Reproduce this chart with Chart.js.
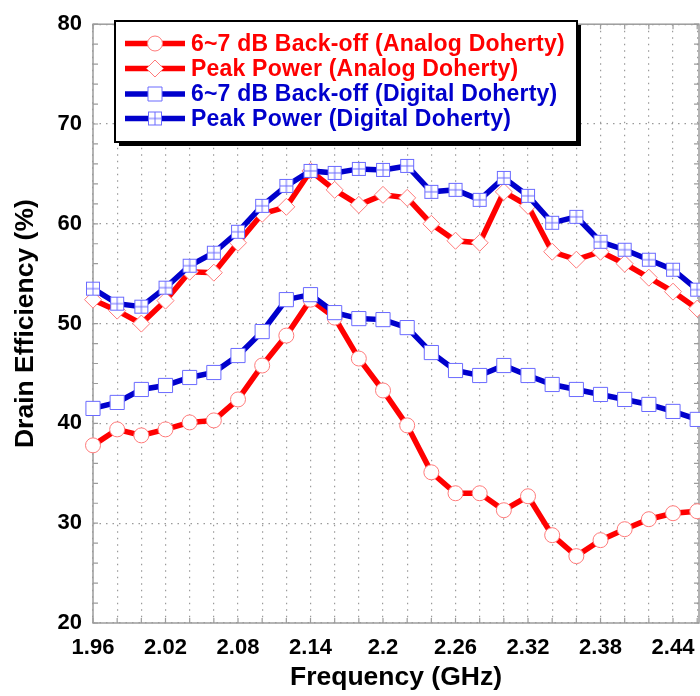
<!DOCTYPE html>
<html>
<head>
<meta charset="utf-8">
<script src="https://cdn.jsdelivr.net/npm/chart.js@4.4.1/dist/chart.umd.min.js"></script>
<style>
  html, body { margin: 0; padding: 0; background: #fff; overflow: hidden; }
  #wrap { width: 700px; height: 696px; position: relative; }
</style>
</head>
<body>
<div id="wrap"><canvas id="c"></canvas></div>
<script>
// Measured drain efficiency (%) versus frequency (GHz)
const frequency = [1.96, 1.98, 2.00, 2.02, 2.04, 2.06, 2.08, 2.10, 2.12, 2.14, 2.16, 2.18, 2.20,
                   2.22, 2.24, 2.26, 2.28, 2.30, 2.32, 2.34, 2.36, 2.38, 2.40, 2.42, 2.44, 2.46];

const analogBackoff  = [37.8, 39.4, 38.8, 39.4, 40.1, 40.3, 42.4, 45.8, 48.8, 52.4, 50.6, 46.5, 43.3,
                        39.8, 35.1, 33.0, 33.0, 31.3, 32.7, 28.8, 26.7, 28.3, 29.4, 30.4, 31.0, 31.2];
const analogPeak     = [52.4, 51.3, 50.0, 52.3, 55.2, 55.1, 58.1, 61.0, 61.7, 65.3, 63.4, 61.9, 62.9,
                        62.6, 60.0, 58.3, 58.1, 63.2, 61.8, 57.2, 56.4, 57.2, 56.0, 54.6, 53.2, 51.5];
const digitalBackoff = [41.5, 42.1, 43.4, 43.8, 44.6, 45.1, 46.8, 49.2, 52.4, 52.9, 51.1, 50.5, 50.4,
                        49.6, 47.1, 45.3, 44.8, 45.8, 44.8, 43.9, 43.4, 42.9, 42.4, 41.9, 41.2, 40.4];
const digitalPeak    = [53.5, 52.0, 51.7, 53.6, 55.8, 57.1, 59.2, 61.8, 63.8, 65.3, 65.1, 65.5, 65.4,
                        65.8, 63.2, 63.4, 62.4, 64.6, 62.8, 60.1, 60.7, 58.2, 57.4, 56.4, 55.4, 53.4];

const seriesLabels = [
  '6~7 dB Back-off (Analog Doherty)',
  'Peak Power (Analog Doherty)',
  '6~7 dB Back-off (Digital Doherty)',
  'Peak Power (Digital Doherty)'
];

const xTickLabels = ['1.96', '2.02', '2.08', '2.14', '2.2', '2.26', '2.32', '2.38', '2.44'];
const yTickLabels = [20, 30, 40, 50, 60, 70, 80];

const RED = '#ff0000', RED_LIGHT = '#ff7a7a';
const BLUE = '#0000cc', BLUE_LIGHT = '#6a6aff';
const FONT = "'Liberation Sans', Arial, sans-serif";

// square marker split into four cells by a cross
function crossSquare(side, stroke) {
  const c = document.createElement('canvas');
  c.width = c.height = side + 2;
  const g = c.getContext('2d');
  const o = 1;
  g.fillStyle = '#fff';
  g.fillRect(o, o, side, side);
  g.strokeStyle = stroke;
  g.lineWidth = 1;
  g.strokeRect(o + 0.5, o + 0.5, side - 1, side - 1);
  g.beginPath();
  g.moveTo(o + side / 2, o); g.lineTo(o + side / 2, o + side);
  g.moveTo(o, o + side / 2); g.lineTo(o + side, o + side / 2);
  g.stroke();
  return c;
}
const crossMarker = crossSquare(14, BLUE_LIGHT);

const pts = arr => frequency.map((f, i) => ({ x: f, y: arr[i] }));

const datasets = [
  { label: seriesLabels[3], data: pts(digitalPeak), borderColor: BLUE, borderWidth: 5.5,
    pointStyle: crossMarker, pointRadius: 8, pointBorderColor: BLUE_LIGHT, pointBackgroundColor: '#fff',
    order: 0, marker: 'cross' },
  { label: seriesLabels[2], data: pts(digitalBackoff), borderColor: BLUE, borderWidth: 5.5,
    pointStyle: 'rect', pointRadius: 10, pointBorderWidth: 1, pointBorderColor: BLUE_LIGHT, pointBackgroundColor: '#fff',
    order: 1, marker: 'square' },
  { label: seriesLabels[1], data: pts(analogPeak), borderColor: RED, borderWidth: 5.5,
    pointStyle: 'rectRot', pointRadius: 8.5, pointBorderWidth: 1, pointBorderColor: RED_LIGHT, pointBackgroundColor: '#fff',
    order: 2, marker: 'diamond' },
  { label: seriesLabels[0], data: pts(analogBackoff), borderColor: RED, borderWidth: 5.5,
    pointStyle: 'circle', pointRadius: 7.5, pointBorderWidth: 1, pointBorderColor: RED_LIGHT, pointBackgroundColor: '#fff',
    order: 3, marker: 'circle' }
].map(d => Object.assign({ fill: false, tension: 0, clip: false, pointHoverRadius: d.pointRadius }, d));

function drawMarker(ctx, kind, x, y, stroke) {
  ctx.save();
  ctx.fillStyle = '#fff';
  ctx.strokeStyle = stroke;
  ctx.lineWidth = 1;
  ctx.beginPath();
  if (kind === 'circle') {
    ctx.arc(x, y, 7.5, 0, Math.PI * 2);
    ctx.fill(); ctx.stroke();
  } else if (kind === 'diamond') {
    ctx.moveTo(x, y - 8.5); ctx.lineTo(x + 8.5, y); ctx.lineTo(x, y + 8.5); ctx.lineTo(x - 8.5, y);
    ctx.closePath(); ctx.fill(); ctx.stroke();
  } else if (kind === 'square') {
    ctx.rect(x - 7, y - 7, 14, 14); ctx.fill(); ctx.stroke();
  } else {
    ctx.drawImage(crossMarker, x - crossMarker.width / 2, y - crossMarker.height / 2);
  }
  ctx.restore();
}

const framePlugin = {
  id: 'frameAndLegend',
  beforeDatasetsDraw(chart) {
    const { ctx, chartArea: a, scales: { x, y } } = chart;
    ctx.save();
    ctx.strokeStyle = '#9c9c9c';
    ctx.lineWidth = 1.2;
    ctx.beginPath();
    x.ticks.forEach(t => {
      const px = x.getPixelForValue(t.value);
      ctx.moveTo(px, a.bottom); ctx.lineTo(px, a.bottom - 5);
      ctx.moveTo(px, a.top); ctx.lineTo(px, a.top + 5);
    });
    y.ticks.forEach(t => {
      const py = y.getPixelForValue(t.value);
      ctx.moveTo(a.left, py); ctx.lineTo(a.left + 5, py);
      ctx.moveTo(a.right, py); ctx.lineTo(a.right - 5, py);
    });
    ctx.stroke();
    ctx.lineWidth = 1.5;
    ctx.strokeRect(a.left, a.top, a.right - a.left, a.bottom - a.top);
    ctx.restore();
  },
  afterDraw(chart) {
    const { ctx } = chart;
    const bx = 115, by = 21, bw = 462, bh = 121;
    ctx.save();
    ctx.fillStyle = '#000';
    ctx.fillRect(bx + 4, by + 4, bw, bh);
    ctx.fillStyle = '#fff';
    ctx.fillRect(bx, by, bw, bh);
    ctx.strokeStyle = '#000';
    ctx.lineWidth = 2;
    ctx.strokeRect(bx, by, bw, bh);

    const rows = [datasets[3], datasets[2], datasets[1], datasets[0]];
    const rowY = [43.5, 68.5, 94, 118.5];
    ctx.font = "bold 23px " + FONT;
    if ('letterSpacing' in ctx) ctx.letterSpacing = '0.2px';
    ctx.textBaseline = 'middle';
    ctx.textAlign = 'left';
    rows.forEach((d, i) => {
      const yy = rowY[i];
      ctx.strokeStyle = d.borderColor;
      ctx.lineWidth = 5.5;
      ctx.beginPath();
      ctx.moveTo(125, yy); ctx.lineTo(185, yy);
      ctx.stroke();
      drawMarker(ctx, d.marker, 155, yy, d.pointBorderColor);
      ctx.fillStyle = d.borderColor === RED ? RED : BLUE;
      ctx.fillText(d.label, 191, yy + 1);
    });
    ctx.restore();
  }
};

new Chart(document.getElementById('c'), {
  type: 'line',
  data: { datasets },
  plugins: [framePlugin],
  options: {
    responsive: true,
    maintainAspectRatio: false,
    animation: false,
    layout: { autoPadding: false, padding: { top: 20, right: 1, left: 0, bottom: 0 } },
    plugins: { legend: { display: false }, tooltip: { enabled: false } },
    scales: {
      x: {
        type: 'linear',
        min: 1.96,
        max: 2.4615,
        afterFit: s => { s.height = 73; },
        ticks: {
          stepSize: 0.02,
          includeBounds: false,
          autoSkip: false,
          maxRotation: 0,
          padding: 0,
          color: '#000',
          font: { family: FONT, size: 22, weight: 'bold' },
          callback: v => {
            const s = String(Math.round(v * 100) / 100);
            return xTickLabels.includes(s) ? s : '';
          }
        },
        grid: { color: '#9a9a9a', lineWidth: 1.2, drawTicks: true, tickLength: 12, tickColor: 'rgba(0,0,0,0)' },
        border: { display: false, dash: [1.5, 5] },
        title: {
          display: true, text: 'Frequency (GHz)', color: '#000',
          font: { family: FONT, size: 26.5, weight: 'bold' },
          padding: { top: 0, bottom: 2 }
        }
      },
      y: {
        min: 20,
        max: 80,
        afterFit: s => { s.width = 93; },
        ticks: {
          stepSize: 2,
          autoSkip: false,
          padding: 11,
          color: '#000',
          font: { family: FONT, size: 22, weight: 'bold' },
          callback: v => (yTickLabels.includes(Math.round(v)) && Math.abs(v - Math.round(v)) < 1e-6) ? String(Math.round(v)) : ''
        },
        grid: {
          color: c => (c.tick && Math.round(c.tick.value) % 10 === 0) ? '#9a9a9a' : 'rgba(0,0,0,0)',
          lineWidth: 1.2, drawTicks: false
        },
        border: { display: false, dash: [1.5, 5] },
        title: {
          display: true, text: 'Drain Efficiency (%)', color: '#000',
          font: { family: FONT, size: 26.5, weight: 'bold' },
          padding: { top: 10, bottom: 0 }
        }
      }
    }
  }
});
</script>
</body>
</html>
